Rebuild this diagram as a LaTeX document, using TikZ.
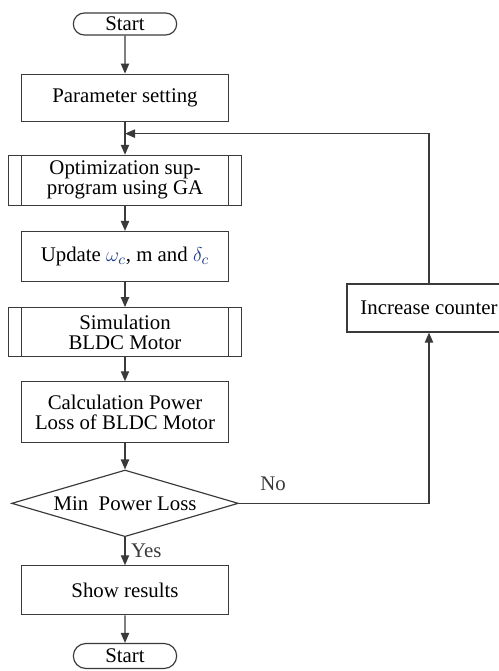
\documentclass[tikz,border=0pt]{standalone}
\usepackage{fontspec}
\setmainfont{Liberation Serif}
\usetikzlibrary{arrows.meta, positioning, shapes.geometric, shapes.misc, calc}
\definecolor{lineGray}{HTML}{3A3A3A}
\definecolor{mathBlue}{HTML}{1F3C88}
\tikzset{
  arrowK/.style={-{Triangle[length=6pt,width=5pt]}, lineGray, line width=0.7pt},
  boxP/.style={rectangle, draw=lineGray, line width=0.7pt, align=center,
               minimum width=124pt, inner sep=2pt},
  boxSub/.style={boxP, minimum width=140pt,
                 path picture={
                   \draw[lineGray, line width=0.7pt]
                     ([xshift=8pt]path picture bounding box.north west) --
                     ([xshift=8pt]path picture bounding box.south west);
                   \draw[lineGray, line width=0.7pt]
                     ([xshift=-8pt]path picture bounding box.north east) --
                     ([xshift=-8pt]path picture bounding box.south east);}},
  termA/.style={rounded rectangle, draw=lineGray, line width=0.7pt,
                minimum width=66pt, inner sep=2pt},
  decA/.style={diamond, draw=lineGray, line width=0.7pt, aspect=3.4,
               minimum width=136pt, minimum height=40pt, inner sep=0pt},
}

\begin{document}
\begin{tikzpicture}[font=\fontsize{12.5}{12}\selectfont, node distance=15pt]
    \useasboundingbox (0,0) rectangle (299.4pt,-402.6pt);
    \node[termA, minimum height=13.2pt] (start) at (75pt,-14.4pt) {Start};
    \node[boxP, minimum height=28.2pt, below=22.8pt of start] (param) {Parameter setting};
    \node[boxSub, minimum height=30pt, below=19.8pt of param] (opt) {Optimization sup-\\program using GA};
    \node[boxP, minimum height=30pt, below=of opt] (upd)
      {Update {\color{mathBlue}$\omega_c$}, m and {\color{mathBlue}$\delta_c$}};
    \node[boxSub, minimum height=29.4pt, below=of upd] (sim) {Simulation\\BLDC Motor};
    \node[boxP, minimum height=36.6pt, below=14.4pt of sim] (calc) {Calculation Power\\Loss of BLDC Motor};
    \node[decA, below=15.6pt of calc] (dec) {Min~ Power Loss};
    \node[boxP, minimum height=29.4pt, below=16.8pt of dec] (show) {Show results};
    \node[termA, minimum height=15pt, below=16.5pt of show] (stop) {Start};
    \node[boxP, minimum width=98.4pt, minimum height=28.8pt] (count) at (257.4pt,-184.8pt) {Increase counter};
    \coordinate (join) at ($(param.south)!0.36!(opt.north)$);
    \draw[arrowK] (start) -- (param);
    \draw[arrowK] (param) -- (opt);
    \draw[arrowK] (opt) -- (upd);
    \draw[arrowK] (upd) -- (sim);
    \draw[arrowK] (sim) -- (calc);
    \draw[arrowK] (calc) -- (dec);
    \draw[arrowK] (dec) -- node[right] {Yes} (show);
    \draw[arrowK] (show) -- (stop);
    \draw[arrowK] (dec.east) -| node[pos=0.09, above=4pt] {No} (count.south);
    \draw[arrowK] (count.north) |- (join);
\end{tikzpicture}
\end{document}
